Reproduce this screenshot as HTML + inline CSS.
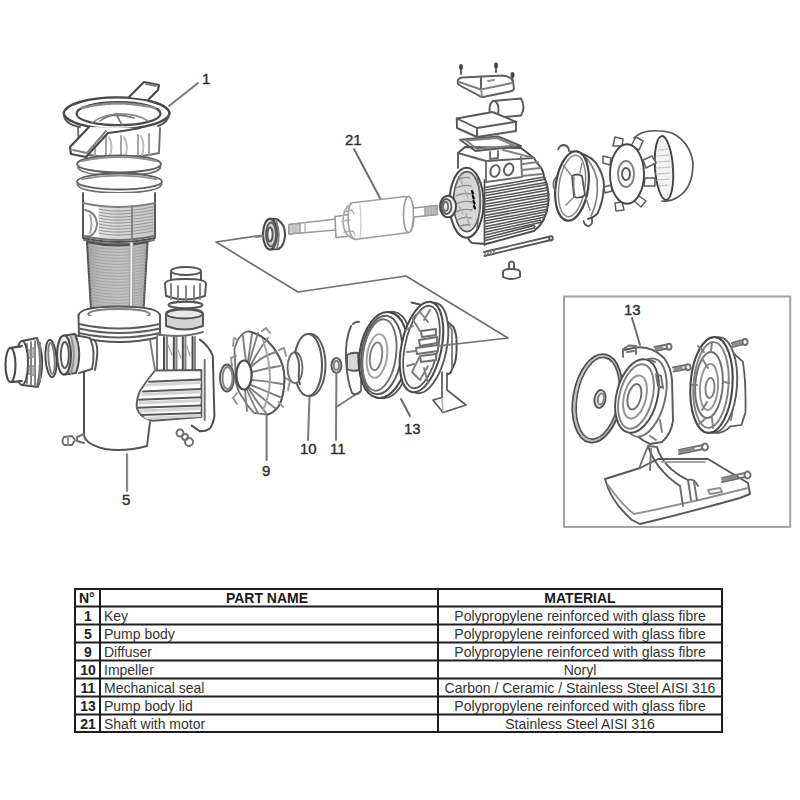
<!DOCTYPE html>
<html><head><meta charset="utf-8">
<style>
html,body{margin:0;padding:0;background:#fff;}
body{width:800px;height:800px;position:relative;overflow:hidden;font-family:"Liberation Sans",sans-serif;}
svg{position:absolute;left:0;top:0;}
.lbl{font-family:"Liberation Sans",sans-serif;font-size:15px;font-weight:normal;fill:#2a2a2a;stroke:#2a2a2a;stroke-width:0.35px;}
.n{font-family:"Liberation Sans",sans-serif;font-size:14px;font-weight:bold;fill:#222;}
.t{font-family:"Liberation Sans",sans-serif;font-size:14px;fill:#333;}
.th{font-family:"Liberation Sans",sans-serif;font-size:14px;fill:#1a1a1a;font-weight:bold;}
</style></head><body>
<svg width="800" height="800" viewBox="0 0 800 800">
<g id="drawing" fill="none" stroke="#545454" stroke-width="1.92" stroke-linejoin="round" stroke-linecap="round">
<g id="pump">
<!-- leader 1 -->
<path d="M198 83 L169 106" stroke="#7a7a7a" stroke-width="2"/>
<!-- cap below key -->
<path d="M78 128 L79 153 Q118 162 159 153 L160 128" fill="#fff" stroke="#6f6f6f"/>
<path d="M106 136 L106 158 M121 136 L121 159 M138 135 L138 158 M149 134 L149 156 M95 134 L95 156" stroke="#a2a2a2"/>
<path d="M109 137 Q114 147 109 158 M124 137 Q130 147 124 159 M141 136 Q146 146 141 158" stroke="#bbbbbb"/>
<!-- key ring -->
<path d="M63.7 113.2 A53 16.5 0 0 1 169.6 113.2 A53 16.5 0 0 1 63.7 113.2 Z" fill="#fff" stroke="#474747" stroke-width="2.4"/>
<path d="M64 114 Q64 124 80 127" />
<path d="M169 114 Q169 122 158 126" />
<ellipse cx="118.5" cy="113.7" rx="42" ry="11.5" fill="#fff" stroke="#4a4a4a" stroke-width="2.2"/>
<path d="M82 108 Q118 99 155 108" stroke="#8a8a8a" stroke-width="2.4" stroke-dasharray="2.5 1.8"/>
<path d="M92 123 Q100 116 116 114 Q136 113 148 121" stroke="#8a8a8a" stroke-width="1.6"/>
<path d="M100 121 Q112 111 134 118 M116 114 L122 125" stroke="#777" stroke-width="1.6"/>
<!-- upper handle -->
<path d="M129 97 L144 82 L159 85 L158 90 L148.5 99.5" fill="#fff" stroke="#4a4a4a" stroke-width="2.2"/>
<path d="M146 84 L156 86" stroke="#808080"/>
<!-- lower handle -->
<path d="M89 127 L70 147 L71 154 L86 157 L108 133 Q125 131 140 128" fill="#fff" stroke="#4a4a4a" stroke-width="2.2"/>
<path d="M73 150 L87 153 L106 131" stroke="#808080"/>
<!-- rings below cap -->
<ellipse cx="119" cy="164" rx="42" ry="8.5" fill="#fff" stroke="#5e5e5e" stroke-width="1.92"/>
<path d="M82 161 Q119 153 156 161" stroke="#929292"/>
<path d="M78 167 Q79 175 119 176 Q159 175 160.5 167" stroke="#6f6f6f"/>
<ellipse cx="119.5" cy="181.5" rx="42.5" ry="8" fill="#fff" stroke="#5e5e5e" stroke-width="1.92"/>
<path d="M82 179 Q119 172 157 179" stroke="#929292"/>
<path d="M77.5 184 Q78 192 119 193 Q161 192 161.5 184" stroke="#6f6f6f"/>
<!-- upper body section -->
<defs>
<linearGradient id="thr" x1="0" x2="1" y1="0" y2="0">
<stop offset="0" stop-color="#a0a0a0"/><stop offset="0.2" stop-color="#bbbbbb"/><stop offset="0.6" stop-color="#c2c2c2"/><stop offset="0.85" stop-color="#b8b8b8"/><stop offset="1" stop-color="#aaaaaa"/>
</linearGradient>
<linearGradient id="thr2" x1="0" x2="1" y1="0" y2="0">
<stop offset="0" stop-color="#e0e0e0"/><stop offset="0.5" stop-color="#d2d2d2"/><stop offset="1" stop-color="#c8c8c8"/>
</linearGradient>
</defs>
<path d="M83 193 L83 238 Q118 246 155 238 L155 193" fill="#fff"/>
<path d="M99 206 Q118 211 154 204 L154 236 Q118 243 99 239 Z" fill="url(#thr2)" stroke="none"/>
<path d="M99.0 209.0 Q118 214.0 153 207.0 M99.0 212.0 Q118 217.0 153 210.0 M99.0 215.0 Q118 220.0 153 213.0 M99.0 218.0 Q118 223.0 153 216.0 M99.0 221.0 Q118 226.0 153 219.0 M99.0 224.0 Q118 229.0 153 222.0 M99.0 227.0 Q118 232.0 153 225.0 M99.0 230.0 Q118 235.0 153 228.0 M99.0 233.0 Q118 238.0 153 231.0 " stroke="#999999" stroke-width="1.12"/>
<path d="M83 203 Q118 211 155 203" stroke="#808080"/>
<path d="M85 210 Q96 212 97 224 Q96 236 86 237" stroke="#808080"/>
<path d="M90 215 Q93 224 90 233" stroke="#a3a3a3"/>
<path d="M84 236 Q118 244 154 236 M84 240 Q118 248 154 240" stroke="#6f6f6f"/>
<path d="M132 206 L132 240" stroke="#808080"/>
<!-- threaded column -->
<path d="M87 242 Q118 249 147.5 242 L143.5 309 Q118 316 91 309 Z" fill="url(#thr)" stroke="#4d4d4d" stroke-width="2.08"/>
<path d="M87.7 246.0 Q118 253.0 147.3 246.0 M87.8 249.0 Q118 256.0 147.1 249.0 M88.0 252.0 Q118 259.0 146.9 252.0 M88.2 255.0 Q118 262.0 146.7 255.0 M88.3 258.0 Q118 265.0 146.5 258.0 M88.5 261.0 Q118 268.0 146.4 261.0 M88.6 264.0 Q118 271.0 146.2 264.0 M88.8 267.0 Q118 274.0 146.0 267.0 M88.9 270.0 Q118 277.0 145.8 270.0 M89.0 273.0 Q118 280.0 145.6 273.0 M89.2 276.0 Q118 283.0 145.5 276.0 M89.3 279.0 Q118 286.0 145.3 279.0 M89.5 282.0 Q118 289.0 145.1 282.0 M89.7 285.0 Q118 292.0 144.9 285.0 M89.8 288.0 Q118 295.0 144.7 288.0 M90.0 291.0 Q118 298.0 144.6 291.0 M90.1 294.0 Q118 301.0 144.4 294.0 M90.2 297.0 Q118 304.0 144.2 297.0 M90.4 300.0 Q118 307.0 144.0 300.0 M90.5 303.0 Q118 310.0 143.8 303.0 M90.7 306.0 Q118 313.0 143.7 306.0 M90.8 309.0 Q118 316.0 143.5 309.0 " stroke="#a0a0a0" stroke-width="0.8"/>
<path d="M131.5 244 L131 312" stroke="#f0f0f0" stroke-width="3.52"/>
<path d="M130 244 L129.5 312 M133 244 L132.5 312" stroke="#919191" stroke-width="0.96"/>
<!-- flange -->
<path d="M78.5 316 Q78.5 306.5 119 306.5 Q160 306.5 160 316 Q160 325.5 119 326.5 Q78.5 325.5 78.5 316 Z" fill="#fff"/>
<path d="M88 314 Q92 309 119 309 Q146 309 150 314 Q146 320 119 321 Q92 320 88 314" stroke="#808080"/>
<path d="M78.5 316 L79 337 Q119 347 160 337 L160 316" fill="#fff"/>
<path d="M79 324 Q119 333 160 324 M79 328.5 Q119 337.5 160 328.5 M79 333 Q119 342 160 333" stroke="#5e5e5e"/>
<!-- pump body -->
<path d="M84 370 L84 434 Q84 444 105 449 Q125 452 147 446 L150 422"/>
<path d="M94 340 Q100 345 95 370"/>
<!-- inlet stub -->
<path d="M74 335 L90 338 Q96 352 92 369 L79 373" fill="#fff" stroke="#595959"/>
<path d="M84 372 L84 434" stroke="#4d4d4d"/>
<!-- socket (gray ring) -->
<path d="M64 335.5 L75 334 Q83 353 76 373 L64 374.5 Z" fill="#cfcfcf" stroke="#4d4d4d" stroke-width="1.92"/>
<path d="M71 336 Q77 354 71 373" stroke="#929292"/>
<ellipse cx="64" cy="355" rx="7" ry="19.5" fill="#f0f0f0" stroke="#484848" stroke-width="2.08"/>
<ellipse cx="64.8" cy="355" rx="4" ry="13" fill="#fff" stroke="#595959"/>
<!-- o-ring left -->
<ellipse cx="51" cy="358.5" rx="5.5" ry="18.5" transform="rotate(-4 51 358.5)" stroke="#484848" stroke-width="1.92"/>
<ellipse cx="51.5" cy="358.5" rx="3" ry="15.5" transform="rotate(-4 51.5 358.5)" stroke="#808080"/>
<!-- nut -->
<path d="M22 341 L37 338 Q47 360 38 387 L22 385" fill="#fff" stroke="#4d4d4d" stroke-width="1.92"/>
<path d="M37 338 Q43 360 37 387" stroke="#6f6f6f"/>
<path d="M27 344 L27 383 M31 342 L31 385 M35 341 L35 385 M40 343 L40 382" stroke="#808080"/>
<path d="M28 350 L30 350 L30 358 L28 358 Z M32 348 L34 348 L34 357 L32 357 Z M28 366 L30 366 L30 374 L28 374 Z M32 366 L34 366 L34 375 L32 375 Z" stroke="#929292" stroke-width="1.28"/>
<ellipse cx="22" cy="363" rx="6" ry="22" fill="#fff" stroke="#4d4d4d" stroke-width="1.92"/>
<!-- pipe end -->
<path d="M10.5 348 L22 346 M10.5 382 L22 381" stroke="#4d4d4d"/>
<path d="M10.5 348 L20 347 L20 381 L10.5 382 Z" fill="#fff" stroke="none"/>
<path d="M10.5 348 L21 346.5 M10.5 382 L21 381" stroke="#4d4d4d" stroke-width="1.92"/>
<ellipse cx="10.5" cy="365" rx="5" ry="17" fill="#fff" stroke="#484848" stroke-width="2.08"/>
<!-- drain plug left -->
<path d="M84 434 L77 437 M84 443 L77 441 M77 437 L77 441" stroke="#6f6f6f"/>
<path d="M64 437 L72 436 L75 440 L72 445 L64 445 Q61 441 64 437 Z" stroke="#6f6f6f"/>
<path d="M68 436.5 L68 445" stroke="#929292"/>
<!-- outlet union -->
<ellipse cx="186" cy="271" rx="15" ry="4" fill="#fff"/>
<path d="M171 272 L171 283 M201 272 L201 283"/>
<path d="M165 284 Q165 279 186 279 Q206 279 206 284 L205 296 Q186 303 166 296 Z" fill="#fff"/>
<path d="M171 284 L171 299 M178 286 L178 301 M186 286 L186 302 M194 286 L194 301 M200 284 L200 299" stroke="#808080"/>
<ellipse cx="185.5" cy="305" rx="17" ry="3.2"/>
<path d="M166 314 Q166 309 184.5 309 Q203 309 203 314 L203 326 Q184.5 333 166 326 Z" fill="#d4d4d4"/>
<ellipse cx="184.5" cy="314" rx="18" ry="4.5" fill="#e8e8e8"/>
<!-- volute ribs (vertical) -->
<path d="M157 336 L157 371 L201 370 L200 336 Z" fill="#fff" stroke="none"/>
<path d="M165 337 L167 337 L167 370 L165 370 Z M174 337 L177 337 L177 370 L174 370 Z M183 337 L186 337 L186 370 L183 370 Z M192.5 337 L195 337 L195 370 L192.5 370 Z" fill="#d8d8d8" stroke="none"/>
<path d="M164 337 L164 371 M173.8 337 L173.8 371 M182.8 337 L182.8 371 M192.5 337 L192.5 371" stroke="#484848" stroke-width="1.92"/>
<path d="M167 337 L167 370 M176.5 337 L176.5 370 M185.5 337 L185.5 370 M195 337 L195 370" stroke="#808080"/>
<path d="M157 336 L157 371" stroke="#6f6f6f"/>
<path d="M168 345 L172 355 M178 350 L181 358 M187 346 L190 356" stroke="#a3a3a3" stroke-width="1.28"/>
<path d="M156 334 Q180 339 203 332" stroke="#6f6f6f"/>
<!-- horizontal ribbed block -->
<path d="M155 370.5 L201.4 370 L201.4 417 L152.7 420.8 Q140 418 136.8 408 Q136 400 140 391 Q147 380 155 370.5 Z" fill="#fff" stroke="#5e5e5e"/>
<path d="M147 383.5 L201 381 L201 384 L145 386.5 Z M142 393 L201 390.5 L201 393.5 L140 396 Z M139 401.5 L201 399 L201 402 L138.5 404.5 Z M139 409.5 L201 407 L201 410 L140 412.5 Z M143 417 L201 414.5 L201 417 L147 419.5 Z" fill="#d4d4d4" stroke="none"/>
<path d="M149 381.8 L201 379.5 M143 391.5 L201 389 M139 399.7 L201 397.3 M138 407.8 L201 405.5 M141 415 L201 413" stroke="#595959"/>
<!-- volute right -->
<path d="M199.8 339.6 Q209 346 212.8 355.8 L214.4 416 Q213 425 209.5 428.9 Q205 431.5 199.8 431.3 L191.7 425.6" stroke="#4d4d4d" stroke-width="1.92"/>
<path d="M204.7 360 L204.7 420" stroke="#6f6f6f"/>
<!-- drain screws -->
<circle cx="180" cy="433" r="3.5" stroke="#6f6f6f"/>
<circle cx="185" cy="437" r="3" stroke="#6f6f6f"/>
<circle cx="189" cy="442" r="4" stroke="#6f6f6f"/>
<!-- leader 5 -->
<path d="M127 454.5 L127 491" stroke="#8a8a8a" stroke-width="2.3"/>
<!-- body upper right joint -->
<path d="M150 340 L155 370" stroke="#808080"/>
</g>

<g id="mid">
<!-- platform lines -->
<path d="M264 235 L216 242 L298 292 L406 276 L508 338 L456 344" stroke="#707070" stroke-width="1.7"/>
<!-- o-ring left of diffuser -->
<ellipse cx="227" cy="378" rx="7" ry="13.5" stroke="#595959"/>
<ellipse cx="227.5" cy="378" rx="5" ry="11" stroke="#808080"/>
<!-- diffuser -->
<path d="M241 335.7 Q245 331 249.4 331.5 Q268 336 278 354.7 Q285 367 284.4 380.8 Q284 396 279 405.8 Q274 413 267.2 414.7 L254 412.9 Q247 406 243.4 398.6 Q238 392 236 383 L234.5 348.8 Q237 340 241 335.7 Z" fill="#fff" stroke="#6f6f6f" stroke-width="1.76"/>
<path d="M249.4 331.5 Q268 336 278 354.7 Q285 367 284.4 380.8 Q284 396 279 405.8 Q274 413 267.2 414.7" stroke="#595959" stroke-width="1.92"/>
<path d="M238 340 L234 338 L233 346 M236 356 L231 358 L232 366 M237 393 L233 398 L237 404 M262 331 L266 328 L270 333 M279 350 L284 348 L286 356 M286 378 L290 381 L288 390 M279 402 L283 407" stroke="#929292"/>
<g stroke="#808080">
<path d="M246 361 Q244 348 243 336 M249 363 Q254 346 258 333 M251 367 Q262 356 276 352 M252 380 Q266 381 282 384 M250 388 Q262 398 275 408 M247 390 Q252 402 258 413"/>
<path d="M248 362 Q250 348 252 334 M251 365 Q258 350 268 338 M252 372 Q266 368 280 366 M251 385 Q265 391 280 397 M249 389 Q256 401 266 413 M245 390 L247 411"/>
<path d="M263 340 Q270 360 270 380 Q269 398 263 410" stroke="#a3a3a3"/>
</g>
<ellipse cx="244" cy="375" rx="7.7" ry="14.5" fill="#fff" stroke="#484848" stroke-width="2.24"/>
<!-- leader 9 -->
<path d="M266.6 414 L266.6 460" stroke="#7a7a7a" stroke-width="2.1"/>
<!-- impeller -->
<ellipse cx="310.5" cy="365" rx="15" ry="31" fill="#fff" stroke="#595959"/>
<ellipse cx="308" cy="365" rx="14" ry="31" fill="#fff" stroke="#595959" stroke-width="2.08"/>
<ellipse cx="295" cy="367.7" rx="7.5" ry="15.5" fill="#fff" stroke="#6f6f6f"/>
<path d="M295 352 Q300 360 299 370 Q298 380 300 384" stroke="#595959"/>
<path d="M309.5 397 L308 440" stroke="#7a7a7a" stroke-width="2"/>
<!-- seal 11 -->
<ellipse cx="336.4" cy="365.4" rx="5" ry="7.5" fill="#ddd" stroke="#595959"/>
<ellipse cx="336.4" cy="365.4" rx="2.5" ry="4.5" fill="#eee" stroke="#808080"/>
<path d="M336.4 373 L336 440" stroke="#7a7a7a" stroke-width="2"/>
<path d="M336.2 407 L361 391 L361 375" stroke="#7a7a7a" stroke-width="2"/>
<!-- o-ring thin -->
<path d="M351 326 Q345 340 346 360 Q347 380 352 393 Q356 396 360 392" stroke="#595959"/>
<path d="M353 324 Q356 321 359 322" stroke="#595959"/>
<!-- seal seat -->
<path d="M347 355 Q352 352 358 353 L359 370 Q352 372 347 369 Z" fill="#d8d8d8" stroke="#595959"/>
<!-- lid front -->
<ellipse cx="388" cy="355" rx="23" ry="43.5" transform="rotate(8 388 355)" fill="#fff" stroke="#595959"/>
<ellipse cx="383.5" cy="355" rx="24" ry="43.3" transform="rotate(8 383.5 355)" fill="#fff" stroke="#484848" stroke-width="2.08"/>
<ellipse cx="381.5" cy="355" rx="20" ry="39.5" transform="rotate(8 381.5 355)" stroke="#595959"/>
<ellipse cx="379.5" cy="355" rx="16.5" ry="36" transform="rotate(8 379.5 355)" stroke="#6f6f6f"/>
<ellipse cx="376" cy="356.3" rx="6" ry="14" transform="rotate(8 376 356.3)" stroke="#808080"/>
<ellipse cx="377" cy="356" rx="10" ry="22" transform="rotate(8 377 356)" stroke="#a3a3a3"/>
<!-- lid leader 13 -->
<path d="M401 399 L410 416" stroke="#6a6a6a" stroke-width="2"/>
<!-- housing -->
<path d="M411.5 302.5 Q432 306 444.5 319 L453.5 327 Q457 335 456.5 343 Q457 355 455 362.5 L450.5 373 L446 375" fill="#fff" stroke="#4d4d4d" stroke-width="1.92"/>
<path d="M446 321 L452 330 L452 368" stroke="#808080"/>
<path d="M442 372 L442 397.5 L433 400 L443 412.5 L466 405 L447 390 L447 373" fill="#fff" stroke="#5a5a5a" stroke-width="1.7"/>
<path d="M442 399 L443 412" stroke="#a8a8a8" stroke-width="1.3"/>
<ellipse cx="426.5" cy="348" rx="20" ry="46" transform="rotate(12 426.5 348)" fill="#fff" stroke="#595959" stroke-width="1.92"/>
<ellipse cx="421.5" cy="347" rx="20" ry="46" transform="rotate(12 421.5 347)" fill="#fff" stroke="#484848" stroke-width="2.08"/>
<ellipse cx="421.5" cy="347" rx="16.5" ry="42" transform="rotate(12 421.5 347)" fill="#fcfcfc" stroke="#595959" stroke-width="1.76"/>
<g stroke="#6f6f6f" fill="#fff">
<path d="M419 340 L437 337 L437 343 L420 346 Z"/>
<path d="M416 348 L438 345 L438 351 L417 354 Z"/>
<path d="M421 331 L436 329 L436 335 L422 337 Z"/>
<path d="M420 356 L436 354 L436 360 L421 362 Z"/>
</g>
<g stroke="#808080">
<path d="M420 331 L412 318 L420 312 L428 322 M420 356 L412 372 L420 380 L428 366 M413 326 L406 330 M414 364 L407 366 M424 320 L430 310 M424 368 L428 383"/>
</g>
<path d="M407 352 L416 351 M438 346 L456 344" stroke="#808080"/>
</g>

<g id="motor">
<!-- leader 21 -->
<path d="M354 149 L381 200" stroke="#6a6a6a" stroke-width="1.9"/>
<!-- left bearing -->
<path d="M270 218.75 L277.5 219.4 Q285.5 225 285 235 Q284.5 246 278.5 249 L270 249.4" fill="#fff" stroke="#4d4d4d" stroke-width="2.08"/>
<path d="M276 220 Q281 234 277 248" stroke="#808080"/>
<ellipse cx="270" cy="234.2" rx="7" ry="15.3" fill="#e6e6e6" stroke="#484848" stroke-width="2.08"/>
<ellipse cx="271" cy="234.5" rx="5" ry="12" fill="#d2d2d2" stroke="#5e5e5e"/>
<ellipse cx="270" cy="234.5" rx="2.6" ry="7" fill="#f6f6f6" stroke="#595959"/>
<path d="M256 237 L263 236" stroke="#7f7f7f"/>
<!-- shaft left -->
<path d="M289 224.5 L336 219 L336 230 L289 234 Z" fill="#fff" stroke="#9a9a9a" stroke-width="1.6"/>
<path d="M289 224.5 L300 223.2 L300 232.8 L289 234 Z" fill="#cfcfcf" stroke="#9a9a9a" stroke-width="1.4"/>
<path d="M293 224 L293 233.5 M296 223.6 L296 233.2" stroke="#adadad" stroke-width="1"/>
<path d="M305 222.5 L305 232" stroke="#b4b4b4" stroke-width="1.4"/>
<path d="M335 216.5 L350 214.5 L352 236 L336 237.5 Z" fill="#fff" stroke="#9a9a9a" stroke-width="1.6"/>
<!-- rotor -->
<path d="M351 203 L405 196.5 Q414 200 414 215 Q414 230 409 232.5 L355 239.5 Q349 236 348 221 Q348 207 351 203 Z" fill="#fff" stroke="#9e9e9e" stroke-width="1.6"/>
<ellipse cx="408.5" cy="214.5" rx="5" ry="18" fill="#fff" stroke="#9a9a9a" stroke-width="1.6"/>
<path d="M351 204 Q343 208 343 222 Q344 236 354 239" stroke="#a8a8a8" stroke-width="1.6"/>
<path d="M344 212 L352 210 L354 214 M344 232 L353 231 L355 235 M342 221 L350 220" stroke="#adadad" stroke-width="1.4"/>
<path d="M360 205 Q362 222 360 238" stroke="#c9c9c9" stroke-width="1.2"/>
<!-- shaft right -->
<path d="M414 208 L437 205.5 L437 214.5 L414 217" fill="#fff" stroke="#9a9a9a" stroke-width="1.6"/>
<path d="M425 206.8 L437 205.5 L437 214.5 L425 215.8 Z" fill="#c4c4c4" stroke="#9a9a9a" stroke-width="1.4"/>
<path d="M428 206.5 L428 215.5 M431 206.2 L431 215.2 M434 205.8 L434 214.8" stroke="#9f9f9f" stroke-width="1"/>
<!-- motor body fins -->
<path d="M458 153 L465 147 L521 148 L534 158 L537 163 Q544 170 544 177 Q550 190 548 205 Q546 222 534 231 L486 244 L472 243 Q468 240 468 236" fill="#fff" stroke="#4d4d4d"/>
<path d="M485 187.5 L544.0 177.0 M486 189.9 L544.0 179.4 M485 193.1 L546.0 182.4 M486 195.5 L546.0 184.8 M485 198.7 L547.0 187.8 M486 201.1 L547.0 190.2 M485 204.3 L548.0 193.2 M486 206.7 L548.0 195.6 M485 209.9 L548.0 198.6 M486 212.3 L548.0 201.0 M485 215.5 L547.0 204.0 M486 217.9 L547.0 206.4 M485 221.1 L546.0 209.4 M486 223.5 L546.0 211.8 M485 226.7 L544.0 214.8 M486 229.1 L544.0 217.2 M485 232.3 L540.0 220.2 M486 234.7 L540.0 222.6 M485 237.9 L534.0 225.6 M486 240.3 L534.0 228.0" stroke="#545454" stroke-width="1.5"/>
<path d="M544.0 177.0 Q546.0 178.2 544.0 179.4 M546.0 182.4 Q548.0 183.6 546.0 184.8 M547.0 187.8 Q549.0 189.0 547.0 190.2 M548.0 193.2 Q550.0 194.4 548.0 195.6 M548.0 198.6 Q550.0 199.8 548.0 201.0 M547.0 204.0 Q549.0 205.2 547.0 206.4 M546.0 209.4 Q548.0 210.6 546.0 211.8 M544.0 214.8 Q546.0 216.0 544.0 217.2 M540.0 220.2 Q542.0 221.4 540.0 222.6 M534.0 225.6 Q536.0 226.8 534.0 228.0" stroke="#545454" stroke-width="1.4"/>
<path d="M484.5 180 L484.5 245" stroke="#545454" stroke-width="1.8"/>
<!-- terminal base -->
<path d="M458 153 L458 168 M458 153 L486 161 L534 158" stroke="#5e5e5e"/>
<path d="M486 161 L486 182 M521 157 L522 177 M486 182 L522 177" stroke="#6f6f6f"/>
<ellipse cx="495" cy="171" rx="4.5" ry="6" stroke="#5e5e5e" transform="rotate(20 495 171)"/>
<ellipse cx="508.7" cy="169.4" rx="4.5" ry="6" stroke="#5e5e5e" transform="rotate(20 508.7 169.4)"/>
<path d="M522 164 L538 162 M522 170 L540 168 M522 176 L542 174" stroke="#808080"/>
<path d="M490 152 L490 159 L498 158 L498 151" stroke="#6f6f6f"/>
<path d="M503 150 L534 158" stroke="#808080"/>
<!-- front flange / stator -->
<ellipse cx="466.5" cy="202.8" rx="17" ry="35" fill="#fff" stroke="#484848" stroke-width="2.08"/>
<ellipse cx="467" cy="201.6" rx="13.5" ry="30" fill="#d6d6d6" stroke="#595959" stroke-width="1.6"/>
<g stroke="#8b8b8b" stroke-width="1.3">
<path d="M458 180 Q464 176 470 178 M456 188 Q463 184 471 186 M456 196 Q463 192 472 194 M456 204 Q463 200 472 202 M456 212 Q463 208 472 210 M457 220 Q463 216 471 218 M459 227 Q464 224 470 225"/>
<path d="M460 176 L463 186 M465 190 L468 198 M459 206 L463 214 M466 214 L469 224" stroke="#a9a9a9"/>
</g>
<path d="M472 191 L473 193.5 M472.8 196 L473.8 198.5 M473.5 201 L474.5 203.5 M474 206 L475 208.5" stroke="#111111" stroke-width="2.2"/>
<path d="M477 176 Q483 200 477 228" stroke="#6f6f6f" stroke-width="1.5"/>
<!-- right bearing -->
<ellipse cx="448" cy="206.5" rx="8" ry="10.7" fill="#fff" stroke="#484848" stroke-width="2.08"/>
<ellipse cx="446.5" cy="206.5" rx="5" ry="7.5" fill="#eee" stroke="#595959"/>
<ellipse cx="445.6" cy="206.5" rx="2.5" ry="4.5" stroke="#6f6f6f"/>
<!-- tie rod -->
<path d="M484 252 L550 236.5 M484.5 256 L551 240" stroke="#595959"/>
<ellipse cx="551" cy="238.3" rx="1.8" ry="2.2" stroke="#595959"/>
<path d="M485 252 L485 256 M488 251.3 L488 255.3 M491 250.6 L491 254.6 M494 250 L494 254" stroke="#6f6f6f" stroke-width="1.28"/>
<!-- foot screw -->
<path d="M509 263 L509 272 M514 263 L514 272 M509 263 Q511.5 260 514 263" stroke="#595959"/>
<path d="M503 272 Q503 269 511.5 269 Q520 269 520 272 L520 277 Q511.5 281 503 277 Z" fill="#fff" stroke="#595959"/>
<!-- terminal box lid -->
<path d="M462 77.5 L503 75.5 Q510 76 513 81 L514 89 Q513 91 510 91.5 L483 97 Q480 97 478 95 L459 85 Q457 83 458 80 Q459 78 462 77.5 Z" fill="#fff" stroke="#5e5e5e"/>
<path d="M459 82 L481 89.5 L512 83" stroke="#808080"/>
<path d="M481 89.5 L482 96" stroke="#929292"/>
<path d="M461 66 L461 74 M496 64.5 L496 72 M512.5 74 L512.5 81 M481 78 L481 88" stroke="#5e5e5e" stroke-width="1.92"/>
<path d="M461 66 L461 68 M496 64.5 L496 66.5 M512.5 74 L512.5 76" stroke="#484848" stroke-width="3.84"/>
<path d="M488 81 L494 80" stroke="#929292"/>
<!-- capacitor -->
<path d="M493 101 L521 98.5 Q526 107 521 115.5 L494 118 " fill="#fff" stroke="#595959"/>
<ellipse cx="494" cy="109.5" rx="4.5" ry="8.5" fill="#fff" stroke="#595959"/>
<!-- terminal box -->
<path d="M456.8 118.5 L492.6 112 L516 121.8 L477 128 Z" fill="#fff" stroke="#595959"/>
<path d="M456.8 118.5 L457 128 L477 137 L516 131 L516 121.8 M477 128 L477 137" stroke="#595959"/>
<!-- gasket -->
<path d="M460 139.7 L498 136.4 L521 146 L475.5 151 Z" stroke="#595959"/>
<path d="M466 140.5 L497 138 L514 145.5 L477 149 Z" stroke="#808080"/>
<!-- end shield -->
<path d="M571 151.5 Q588 153 596 163 Q604 175 604 186 Q603 203 597.4 213.6 Q593 218 588 219" fill="#fff" stroke="#4e4e4e" stroke-width="2"/>
<path d="M580 153 Q593 161 597 180 Q599 200 591 216" stroke="#7e7e7e" stroke-width="1.6"/>
<ellipse cx="572" cy="186" rx="16.3" ry="35" transform="rotate(8 572 186)" fill="#fff" stroke="#444" stroke-width="2.2"/>
<ellipse cx="572" cy="186" rx="13" ry="31" transform="rotate(8 572 186)" stroke="#858585" stroke-width="1.5"/>
<path d="M558 149.5 Q560 145 564 145 Q569 146 569 151" fill="#fff" stroke="#555" stroke-width="1.8"/>
<path d="M583.6 221 Q585 226.5 589 226 Q593 224 592 219" fill="#fff" stroke="#555" stroke-width="1.8"/>
<path d="M556 177 Q551 183 555 191" stroke="#6a6a6a" stroke-width="1.6"/>
<path d="M572 176 Q577 173 582 176 L585 195 Q580 199 574 197 Z" fill="#fff" stroke="#555" stroke-width="1.8"/>
<path d="M574 177 Q573 187 575 197" stroke="#7a7a7a" stroke-width="1.4"/>
<path d="M563 165 L571 175 M582 163 L580 173 M586 198 L590 210 M566 205 L573 198" stroke="#8a8a8a" stroke-width="1.5"/>
<!-- fan cover -->
<path d="M634 138 Q640 132 650 131 Q662 130 672 133 Q690 142 693 163 Q693 188 678 197 Q670 202 662 201" fill="#fff" stroke="#595959" stroke-width="1.7"/>
<ellipse cx="664" cy="168" rx="9" ry="32" transform="rotate(-4 664 168)" fill="#f2f2f2" stroke="#414141" stroke-width="1.9"/>
<g stroke="#bbbbbb" stroke-width="1.2" stroke-dasharray="1.5 1.5">
<path d="M659 150 L668 149 M657 156 L670 155 M656 162 L671 161 M656 168 L672 167 M656 174 L671 173 M657 180 L670 179 M659 186 L668 185"/>
</g>
<!-- fan -->
<g fill="#fff" stroke="#5e5e5e" stroke-width="1.5">
<path d="M613 146 L615 137 L623 139 L622 146 Z"/>
<path d="M631 146 L636 137 L643 141 L639 150 Z"/>
<path d="M643 160 L652 156 L656 163 L646 168 Z"/>
<path d="M645 178 L655 178 L655 186 L644 186 Z"/>
<path d="M639 196 L646 201 L641 207 L634 201 Z"/>
<path d="M622 202 L624 210 L616 211 L615 203 Z"/>
<path d="M611 158 L603 156 L603 163 L610 165 Z"/>
<path d="M611 185 L604 187 L605 193 L612 191 Z"/>
</g>
<ellipse cx="627" cy="174" rx="17" ry="29.8" fill="#fff" stroke="#484848" stroke-width="1.92"/>
<ellipse cx="626" cy="174" rx="8" ry="13" stroke="#808080"/>
<ellipse cx="626" cy="174" rx="4" ry="6" stroke="#595959"/>
</g>

<g id="inset">
<!-- leader 13 inset -->
<path d="M632 318 L640 345" stroke="#6a6a6a" stroke-width="1.9"/>
<!-- big o-ring -->
<ellipse cx="597.6" cy="398.3" rx="22.5" ry="43" transform="rotate(10 597.6 398.3)" stroke="#bdbdbd" stroke-width="1.6"/>
<ellipse cx="597.4" cy="398.3" rx="24.2" ry="44.7" transform="rotate(10 597.4 398.3)" stroke="#4a4a4a" stroke-width="1.8"/>
<ellipse cx="597.8" cy="398.3" rx="20.8" ry="41.3" transform="rotate(10 597.8 398.3)" stroke="#555" stroke-width="1.7"/>
<!-- seal center -->
<ellipse cx="600" cy="399" rx="5.5" ry="9" transform="rotate(10 600 399)" fill="#ddd" stroke="#595959"/>
<ellipse cx="601" cy="399" rx="3" ry="5.5" transform="rotate(10 601 399)" fill="#f2f2f2" stroke="#808080"/>
<!-- lid housing -->
<path d="M624 350 L636 347.5 Q652 346 664 358 Q671 367 672 380 L673 421 Q671 434 662 442 L650 444 Q636 438 628 425" fill="#fff" stroke="#595959" stroke-width="1.92"/>
<path d="M623 349.4 L623 357 M623 349.4 L629 345.5 L636 346 L636 354 M627 352 L634 351" stroke="#6f6f6f"/>
<ellipse cx="645" cy="397.5" rx="20" ry="40" transform="rotate(14 645 397.5)" fill="#fff" stroke="#6f6f6f"/>
<ellipse cx="637" cy="396" rx="20.5" ry="37.5" transform="rotate(14 637 396)" fill="#fff" stroke="#4d4d4d" stroke-width="1.92"/>
<ellipse cx="636" cy="396.5" rx="16.5" ry="33" transform="rotate(14 636 396.5)" stroke="#808080"/>
<ellipse cx="635" cy="397" rx="11" ry="22" transform="rotate(14 635 397)" stroke="#929292"/>
<ellipse cx="634.4" cy="396.8" rx="6.5" ry="13" transform="rotate(14 634.4 396.8)" stroke="#6f6f6f"/>
<path d="M656 374 L661 376 L663 388 L658 386 Z M648 359 L655 362" stroke="#6f6f6f"/>
<path d="M660 420 L662 432 M650 436 L656 440" stroke="#808080"/>
<!-- bolts -->
<path d="M654.5 347 L667 344.5 M655 351 L667.5 348.5" stroke="#6f6f6f"/>
<ellipse cx="669" cy="346.7" rx="2.5" ry="3" stroke="#6f6f6f"/>
<path d="M673 367.5 L686 365 M673.5 371.5 L686.5 369" stroke="#6f6f6f"/>
<ellipse cx="688" cy="367.2" rx="2.5" ry="3" stroke="#6f6f6f"/>
<path d="M656 349 L662 347.8 M675 369.3 L681 368.1" stroke="#8c8c8c" stroke-width="3.2"/>
<!-- motor flange disc -->
<path d="M715 337 Q722 338 726 346.5 L742.8 361.6 Q746 380 745.5 412.5 L741.4 425 L730.4 426.3 Q724 433 716 433" fill="#fff" stroke="#595959" stroke-width="1.76"/>
<path d="M731 352 Q738 385 731 420" stroke="#808080"/>
<ellipse cx="716" cy="385" rx="21" ry="48" transform="rotate(4 716 385)" fill="#fff" stroke="#5e5e5e" stroke-width="1.92"/>
<ellipse cx="711.5" cy="385" rx="21" ry="48" transform="rotate(4 711.5 385)" fill="#fff" stroke="#484848" stroke-width="2.08"/>
<ellipse cx="711" cy="385" rx="17.5" ry="43" transform="rotate(4 711 385)" stroke="#808080"/>
<ellipse cx="709" cy="385" rx="13.7" ry="33" transform="rotate(4 709 385)" stroke="#6f6f6f"/>
<ellipse cx="709" cy="387" rx="9" ry="23" transform="rotate(4 709 387)" stroke="#929292"/>
<ellipse cx="710" cy="388" rx="4.5" ry="10" transform="rotate(4 710 388)" stroke="#808080"/>
<path d="M698 346 L704 352 M712 342 L711 351 M699 424 L705 419 M713 428 L712 418 M692 385 L697 385 M724 382 L729 383 M703 360 L708 368 M702 410 L707 402" stroke="#808080"/>
<!-- bolt flange -->
<path d="M731.7 343 L743 340 M732.2 347 L743.5 344" stroke="#6f6f6f"/>
<path d="M733 345 L740 343.3" stroke="#8c8c8c" stroke-width="3.2"/>
<ellipse cx="745" cy="342" rx="2.6" ry="3" stroke="#6f6f6f"/>
<!-- foot bracket -->
<path d="M605 479 L640 468 L658 459 L708 459 L748 483 L750 494 L740 498 Q690 512 640 524 L632 520 Q615 505 608 488 Z" fill="#fff" stroke="#595959" stroke-width="1.92"/>
<path d="M608 485 Q622 505 634 514 Q690 503 748 488" stroke="#929292"/>
<path d="M648 446 Q656 470 680 486 M657 447 Q663 468 688 480" stroke="#595959"/>
<path d="M648 446 L657 447 M648 446 L640 466 M651 449 L650 470" stroke="#6f6f6f"/>
<path d="M680 486 L683 506 M688 480 L691 500 M694 482 L697 500 M688 480 Q694 478 698 486" stroke="#6f6f6f"/>
<path d="M662 462 L705 462" stroke="#a3a3a3"/>
<path d="M708 490 L720 488 L722 492 L710 494 Z" stroke="#929292"/>
<!-- foot bolts -->
<path d="M679 450 L703 445 M679 454 L703 449" stroke="#6f6f6f"/>
<path d="M680 451.5 L693 449" stroke="#8c8c8c" stroke-width="3.4"/>
<ellipse cx="705" cy="447" rx="3" ry="3.5" stroke="#6f6f6f"/>
<path d="M722 478 L745 473 M722 482 L745 477" stroke="#6f6f6f"/>
<path d="M723 479.5 L735 477" stroke="#8c8c8c" stroke-width="3.4"/>
<ellipse cx="747.5" cy="475" rx="3" ry="3.5" stroke="#6f6f6f"/>
</g>

</g>
<!-- inset box -->
<rect x="564" y="296.5" width="226.2" height="230.4" fill="none" stroke="#a2a2a2" stroke-width="2"/>
<!-- labels -->
<g class="lbl">
<text x="202" y="84" class="lbl">1</text>
<text x="345" y="145" class="lbl">21</text>
<text x="404" y="434" class="lbl">13</text>
<text x="262" y="476" class="lbl">9</text>
<text x="300" y="454" class="lbl">10</text>
<text x="330" y="454" class="lbl">11</text>
<text x="122" y="505" class="lbl">5</text>
<text x="624" y="315" class="lbl">13</text>
</g>
<!-- table -->
<g id="table">
<g stroke="#1e1e1e" stroke-width="2" fill="none">
<rect x="75" y="589" width="647" height="143"/>
<line x1="100" y1="589" x2="100" y2="732"/>
<line x1="438" y1="589" x2="438" y2="732"/>
<line x1="75" y1="606.5" x2="722" y2="606.5"/>
<line x1="75" y1="624.5" x2="722" y2="624.5"/>
<line x1="75" y1="642.5" x2="722" y2="642.5"/>
<line x1="75" y1="660.5" x2="722" y2="660.5"/>
<line x1="75" y1="678.5" x2="722" y2="678.5"/>
<line x1="75" y1="696.5" x2="722" y2="696.5"/>
<line x1="75" y1="714.5" x2="722" y2="714.5"/>
</g>
<text x="79" y="603" class="th">N°</text>
<text x="267" y="603" class="th" text-anchor="middle">PART NAME</text>
<text x="580" y="603" class="th" text-anchor="middle">MATERIAL</text>
<g class="t">
<text x="88" y="621" text-anchor="middle" class="n">1</text>
<text x="88" y="639" text-anchor="middle" class="n">5</text>
<text x="88" y="657" text-anchor="middle" class="n">9</text>
<text x="88" y="675" text-anchor="middle" class="n">10</text>
<text x="88" y="693" text-anchor="middle" class="n">11</text>
<text x="88" y="711" text-anchor="middle" class="n">13</text>
<text x="88" y="729" text-anchor="middle" class="n">21</text>
<text x="104" y="621">Key</text>
<text x="104" y="639">Pump body</text>
<text x="104" y="657">Diffuser</text>
<text x="104" y="675">Impeller</text>
<text x="104" y="693">Mechanical seal</text>
<text x="104" y="711">Pump body lid</text>
<text x="104" y="729">Shaft with motor</text>
<text x="580" y="621" text-anchor="middle">Polypropylene reinforced with glass fibre</text>
<text x="580" y="639" text-anchor="middle">Polypropylene reinforced with glass fibre</text>
<text x="580" y="657" text-anchor="middle">Polypropylene reinforced with glass fibre</text>
<text x="580" y="675" text-anchor="middle">Noryl</text>
<text x="580" y="693" text-anchor="middle">Carbon / Ceramic / Stainless Steel AISI 316</text>
<text x="580" y="711" text-anchor="middle">Polypropylene reinforced with glass fibre</text>
<text x="580" y="729" text-anchor="middle">Stainless Steel AISI 316</text>
</g>
</g>
</svg>
</body></html>
